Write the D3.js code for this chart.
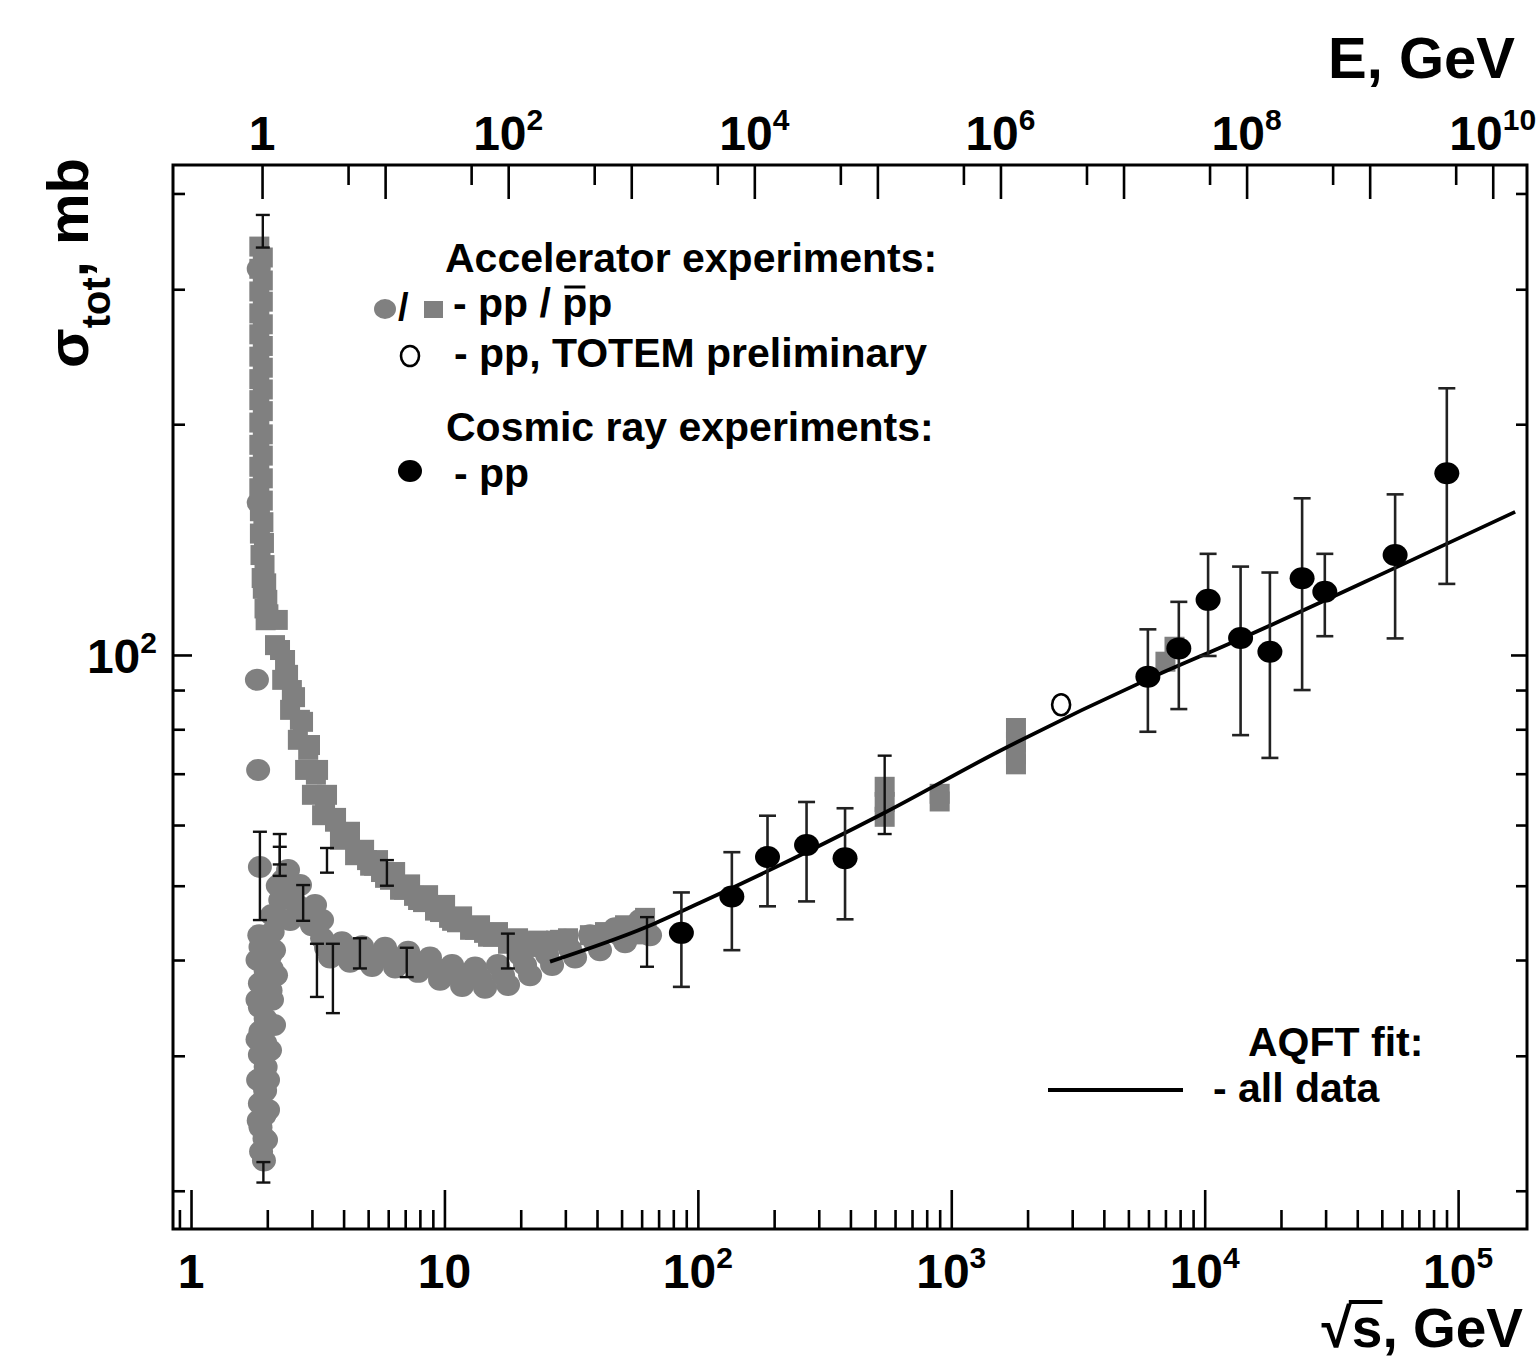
<!DOCTYPE html>
<html>
<head>
<meta charset="utf-8">
<script src="https://cdn.jsdelivr.net/npm/d3@7"></script>
<style>
body{margin:0;background:#fff;}
svg{display:block;}
text{font-family:"Liberation Sans",Arial,Helvetica,sans-serif;font-weight:bold;fill:#000;}
</style>
</head>
<body>
<svg width="1539" height="1359"></svg>
<script>
// all x values are sqrt(s) in GeV, all y values sigma_tot in mb

// accelerator pbar-p (grey squares)
var ppbarData=[
  [1.86,341],[1.92,330],[1.86,319],[1.92,308],[1.86,298],[1.92,289],[1.86,279],[1.92,270],
  [1.86,262],[1.92,253],[1.86,245],[1.92,237],[1.86,229],[1.92,222],[1.86,215],[1.92,208],
  [1.86,201],[1.92,194],[1.86,188],[1.92,182],[1.86,176],[1.92,170],[1.86,165],[1.92,159],
  [1.87,154],[1.93,149],[1.87,144],[1.94,140],[1.88,135],[1.95,131],[1.90,126],[1.98,124],
  [1.92,122],[2.00,118],[1.95,115],[2.02,113],[1.97,111],
  [2.20,111.1],[2.145,103],[2.35,98.5],[2.29,92.8],[2.50,90],[2.46,84.8],[2.69,82.3],[2.64,77.5],
  [2.90,75.2],[2.82,70.8],[3.11,69.8],[3.00,65.7],[3.38,64.7],[3.29,61.8],[3.70,60.6],[3.87,57.4],
  [4.24,58.8],[4.44,54.8],[4.82,55.7],[5.09,53.1],[5.47,54.0],[5.83,51.2],[6.39,52.1],[6.68,49.4],
  [7.32,50.2],[7.87,47.9],[8.62,48.6],[9.18,46.4],[10.06,47.2],[10.72,45.0],[11.74,45.6],[12.62,43.8],
  [13.82,44.4],[14.86,42.9],[16.27,43.5],[17.82,42.0],[19.52,42.7],[21.38,41.6],[23.41,42.4],
  [25.64,41.5],[27.56,42.4],[30.74,42.7],
  [2.245,101.5],[2.415,94.2],[2.573,88.1],[2.767,81.8],[2.948,76.3],[3.172,70.8],[3.441,65.7],
  [3.735,61.3],[4.053,57.7],[4.56,55.3],[4.95,54.0],[5.276,53.1],[5.621,52.1],[6.099,50.9],
  [6.928,49.4],[7.586,48.5],[8.233,47.6],[9.608,46.2],[10.43,45.4],[11.21,44.8],[13.21,43.8],
  [14.33,43.4],[15.55,42.9],[18.49,42.5],[20.43,42.2],[22.37,42.1],[24.5,42.1],[28.59,42.5],
  [37.5,43.1],[43,43.5],[51.6,44.4],[56,43.2],[61.9,45.4],
  [546,67.3],[546,64.3],[546,61.5],[900,65.9],[900,64.4],
  [1800,80.3],[1800,77],[1800,74.2],[1800,72],[7000,98],[7600,102.5]
];

// accelerator pp (grey circles)
var ppData=[
  [1.85,319],[1.85,158],[1.82,92.8],[1.84,70.8],[1.87,52.9],
  [1.86,43.1],[1.98,42.5],[2.10,43.5],[1.88,41.6],[2.05,40.5],[1.86,40.1],[1.97,38.7],[2.08,39],
  [1.87,37.3],[1.96,36],[2.06,36.5],[1.87,34.7],[1.97,33.5],[1.88,32.3],[1.96,31.2],[1.87,30.1],
  [1.97,29],[1.88,28],[1.96,27],[1.87,26],[1.95,25.1],[1.88,24.2],[1.95,23.4],[1.89,22.5],[1.94,21.9],
  [2.126,41.2],[2.165,38.2],[2.087,35.5],[2.126,32.9],[2.05,30.5],[2.013,27.9],[2.013,25.5],[1.977,23.3],
  [1.83,40.0],[1.83,35.5],[1.83,31.5],[1.84,27.9],[1.85,24.7],
  [2.31,50.9],[2.46,48.9],[2.62,47.2],[2.25,47.9],[2.82,45.8],[2.15,45.8],[3.00,44.4],[2.46,45.1],[2.20,50],
  [2.415,52.4],[2.692,50.1],[3.086,47.2],[3.289,45.1],[2.087,45.8],
  [3.29,42.7],[3.54,40.3],[3.94,42.2],[4.24,39.8],[4.73,41.7],[5.18,39.3],[5.83,41.5],[6.39,39.1],
  [7.19,41.0],[7.87,38.6],[8.77,40.3],[9.61,37.7],[10.72,39.4],[11.74,37.0],[13.21,39.1],[14.46,36.8],
  [16.27,39.4],[17.82,37.1],[19.88,40.6],[21.77,38.2],[24.28,41.9],[26.59,39.4],[29.92,42.5],[32.77,40.3],
  [37.54,43.1],[41.11,41.2],[47.13,44.0],[51.62,42.2],[59.15,45.1],[64.77,43.1],
  [3.41,41.5],[4.09,41.0],[4.95,40.5],[6.099,40.3],[7.516,39.8],[9.182,39.0],[11.21,38.2],[13.82,37.9],
  [17.03,38.2],[20.8,39.4],[25.41,40.6],[31.31,41.3],[39.29,42.2],[49.32,43.1],[61.89,44.0]
];

// accelerator error bars [sqrt(s), low, high]
var accErrors=[
  [1.92,340,375],[1.87,45.1,58.8],[2.24,51.5,58.4],[2.24,53.3,56.2],[2.77,45,50.1],[3.44,52,56],
  [5.93,50,54],[3.14,35.8,42],[3.63,34.1,42],[4.64,39,42.7],[7.1,38,41.5],[17.8,39,43.3],
  [63,39.2,45.5],[546,58.4,73.9],[1.93,20.5,21.8]
];

// cosmic ray pp [sqrt(s), sigma, low, high]
var cosmicData=[
  [86.1,43.4,36.9,49.0],[136.2,48.4,41.2,55.3],[188.3,54.5,47.0,61.7],[268.5,56.5,47.7,64.3],
  [380.9,54.3,45.2,63.1],[5968,93.7,79.4,108.0],[7905,102.0,85.0,117.3],[10314,118.0,99.7,135.5],
  [13857,105.2,78.6,130.4],[18084,101.0,73.4,128.1],[24235,125.9,90.0,160.1],[29785,120.9,105.8,135.5],
  [56420,135.0,105.1,162.0],[90250,172.6,123.8,222.8]
];

// TOTEM preliminary
var totemData=[[2713,86.1]];

// AQFT fit curve
var fitData=[
  [26.1,39.8],[63,44.2],[102,47.5],[543,62.2],[1558,75.0],[5980,93.0],[13796,104.9],[56420,129.9],[167900,153.7]
];

// labelled ticks
var topLabelE=[1,1e2,1e4,1e6,1e8,1e10];
var bottomLabelS=[1,10,1e2,1e3,1e4,1e5];
var leftLabelSigma=[1e2];

var grey='#808080';
var svg=d3.select('body').select('svg');
var frame={left:173,right:1527,top:165,bottom:1229};

var xScale=d3.scaleLog().domain([0.849,1.87e5]).range([frame.left,frame.right]);
var yScale=d3.scaleLog().domain([17.83,435.7]).range([frame.bottom,frame.top]);
var mp=0.938;
var sqrtS=function(E){return Math.sqrt(2*mp*E+2*mp*mp);};
var eScale=d3.scaleLog().domain([1,1e10]).range([xScale(sqrtS(1)),xScale(sqrtS(1e10))]);

var isMajor=function(v){
  var l=Math.log10(v);
  return Math.abs(l-Math.round(l))<1e-6;
};

var styleAxis=function(g){
  g.select('.domain').remove();
  g.selectAll('line').attr('stroke','#000').attr('stroke-width',2.6);
};

let plot=svg.append('g').attr('id','plot');

// ---- grey accelerator data
plot.selectAll('ellipse.pp')
  .data(ppData)
  .enter().append('ellipse')
  .attr('class','pp')
  .attr('cx',function(d){return xScale(d[0]);})
  .attr('cy',function(d){return yScale(d[1]);})
  .attr('rx',12).attr('ry',11)
  .attr('fill',grey);

plot.selectAll('rect.ppbar')
  .data(ppbarData)
  .enter().append('rect')
  .attr('class','ppbar')
  .attr('x',function(d){return xScale(d[0])-10;})
  .attr('y',function(d){return yScale(d[1])-10;})
  .attr('width',20).attr('height',20)
  .attr('fill',grey);

var drawErrors=function(cls,data,lo,hi,cap,color,w){
  let g=plot.append('g').attr('class',cls);
  g.selectAll('line.v').data(data).enter().append('line').attr('class','v')
    .attr('x1',function(d){return xScale(d[0]);}).attr('x2',function(d){return xScale(d[0]);})
    .attr('y1',function(d){return yScale(d[lo]);}).attr('y2',function(d){return yScale(d[hi]);})
    .attr('stroke',color).attr('stroke-width',w);
  [lo,hi].forEach(function(k){
    g.selectAll('line.c'+k).data(data).enter().append('line').attr('class','c'+k)
      .attr('x1',function(d){return xScale(d[0])-cap;}).attr('x2',function(d){return xScale(d[0])+cap;})
      .attr('y1',function(d){return yScale(d[k]);}).attr('y2',function(d){return yScale(d[k]);})
      .attr('stroke',color).attr('stroke-width',w);
  });
};
drawErrors('acc-err',accErrors,1,2,7,'#111',2.4);

// ---- fit line
let line=d3.line()
  .x(function(d){return xScale(d[0]);})
  .y(function(d){return yScale(d[1]);})
  .curve(d3.curveMonotoneX);
plot.append('path').datum(fitData)
  .attr('d',line)
  .attr('fill','none').attr('stroke','#000').attr('stroke-width',3.8);

// ---- cosmic rays
drawErrors('cr-err',cosmicData,2,3,8.5,'#222',2.6);
plot.selectAll('ellipse.cr')
  .data(cosmicData)
  .enter().append('ellipse')
  .attr('class','cr')
  .attr('cx',function(d){return xScale(d[0]);})
  .attr('cy',function(d){return yScale(d[1]);})
  .attr('rx',12.5).attr('ry',11)
  .attr('fill','#000');

plot.selectAll('ellipse.totem')
  .data(totemData)
  .enter().append('ellipse')
  .attr('class','totem')
  .attr('cx',function(d){return xScale(d[0]);})
  .attr('cy',function(d){return yScale(d[1]);})
  .attr('rx',9).attr('ry',10.5)
  .attr('fill','#fff').attr('stroke','#000').attr('stroke-width',2.6);

// ---- axes (ticks point inward)
let xTicks=xScale.ticks();
let yTicks=yScale.ticks();
let eMajor=d3.range(0,11).map(function(i){return Math.pow(10,i);});
let eMinor=d3.range(0,10).map(function(i){return 5*Math.pow(10,i);});

plot.append('g').attr('transform','translate(0,'+frame.bottom+')')
  .call(d3.axisBottom(xScale).tickValues(xTicks.filter(isMajor)).tickSize(-39).tickSizeOuter(0).tickFormat(''))
  .call(styleAxis);
plot.append('g').attr('transform','translate(0,'+frame.bottom+')')
  .call(d3.axisBottom(xScale).tickValues(xTicks.filter(function(d){return !isMajor(d);})).tickSize(-19).tickSizeOuter(0).tickFormat(''))
  .call(styleAxis);

plot.append('g').attr('transform','translate(0,'+frame.top+')')
  .call(d3.axisTop(eScale).tickValues(eMajor).tickSize(-34).tickSizeOuter(0).tickFormat(''))
  .call(styleAxis);
plot.append('g').attr('transform','translate(0,'+frame.top+')')
  .call(d3.axisTop(eScale).tickValues(eMinor).tickSize(-20).tickSizeOuter(0).tickFormat(''))
  .call(styleAxis);

plot.append('g').attr('transform','translate('+frame.left+',0)')
  .call(d3.axisLeft(yScale).tickValues(yTicks.filter(isMajor)).tickSize(-19).tickSizeOuter(0).tickFormat(''))
  .call(styleAxis);
plot.append('g').attr('transform','translate('+frame.left+',0)')
  .call(d3.axisLeft(yScale).tickValues(yTicks.filter(function(d){return !isMajor(d);})).tickSize(-12).tickSizeOuter(0).tickFormat(''))
  .call(styleAxis);
plot.append('g').attr('transform','translate('+frame.right+',0)')
  .call(d3.axisRight(yScale).tickValues(yTicks.filter(isMajor)).tickSize(-16).tickSizeOuter(0).tickFormat(''))
  .call(styleAxis);
plot.append('g').attr('transform','translate('+frame.right+',0)')
  .call(d3.axisRight(yScale).tickValues(yTicks.filter(function(d){return !isMajor(d);})).tickSize(-11).tickSizeOuter(0).tickFormat(''))
  .call(styleAxis);

plot.append('rect')
  .attr('x',frame.left).attr('y',frame.top)
  .attr('width',frame.right-frame.left).attr('height',frame.bottom-frame.top)
  .attr('fill','none').attr('stroke','#000').attr('stroke-width',3);

// ---- tick labels
var powLabel=function(x,y,v,anchor){
  let e=Math.round(Math.log10(v));
  let t=svg.append('text').attr('x',x).attr('y',y).attr('text-anchor',anchor).style('font-size','48px');
  if(e===0){t.text('1');}
  else if(e===1){t.text('10');}
  else{
    t.append('tspan').text('10');
    t.append('tspan').attr('dy',-20).style('font-size','30px').text(e);
  }
  return t;
};
topLabelE.forEach(function(v){powLabel(eScale(v),150,v,'middle');});
bottomLabelS.forEach(function(v){powLabel(xScale(v),1288,v,'middle');});
leftLabelSigma.forEach(function(v){powLabel(frame.left-16,yScale(v)+18,v,'end');});

// ---- axis titles
svg.append('text').attr('x',1515).attr('y',78).attr('text-anchor','end')
  .style('font-size','58px').text('E, GeV');

let xt=svg.append('text').attr('x',1523).attr('y',1347).attr('text-anchor','end')
  .style('font-size','55px').text('\u221As, GeV');
let r0=xt.node().getExtentOfChar(0), r1=xt.node().getExtentOfChar(1);
svg.append('line')
  .attr('x1',r0.x+r0.width-3).attr('x2',r1.x+r1.width)
  .attr('y1',1302).attr('y2',1302)
  .attr('stroke','#000').attr('stroke-width',4);

let yt=svg.append('text').attr('transform','translate(88,368) rotate(-90)').style('font-size','58px');
yt.append('tspan').text('\u03C3');
yt.append('tspan').attr('dy',22).style('font-size','40px').text('tot');
yt.append('tspan').attr('dy',-22).text(', mb');

// ---- legend
let leg=svg.append('g').attr('id','legend').style('font-size','41px');
leg.append('text').attr('x',445).attr('y',272).text('Accelerator experiments:');
leg.append('ellipse').attr('cx',385).attr('cy',309).attr('rx',11).attr('ry',10).attr('fill',grey);
leg.append('text').attr('x',398).attr('y',320).style('font-size','38px').text('/');
leg.append('rect').attr('x',424).attr('y',301).attr('width',19).attr('height',17).attr('fill',grey);
let ppTxt=leg.append('text').attr('x',453).attr('y',317).text('- pp / pp');
let cb=ppTxt.node().getExtentOfChar(7);
leg.append('line').attr('x1',cb.x+2).attr('x2',cb.x+cb.width-2)
  .attr('y1',317-30).attr('y2',317-30).attr('stroke','#000').attr('stroke-width',3);
leg.append('ellipse').attr('cx',410).attr('cy',356).attr('rx',9).attr('ry',10)
  .attr('fill','#fff').attr('stroke','#000').attr('stroke-width',2.6);
leg.append('text').attr('x',454).attr('y',367).text('- pp, TOTEM preliminary');
leg.append('text').attr('x',446).attr('y',441).text('Cosmic ray experiments:');
leg.append('ellipse').attr('cx',410).attr('cy',471).attr('rx',12).attr('ry',11).attr('fill','#000');
leg.append('text').attr('x',454).attr('y',487).text('- pp');

leg.append('text').attr('x',1248).attr('y',1056).text('AQFT fit:');
leg.append('line').attr('x1',1048).attr('x2',1183).attr('y1',1090).attr('y2',1090)
  .attr('stroke','#000').attr('stroke-width',4);
leg.append('text').attr('x',1213).attr('y',1102).text('- all data');
</script>
</body>
</html>
